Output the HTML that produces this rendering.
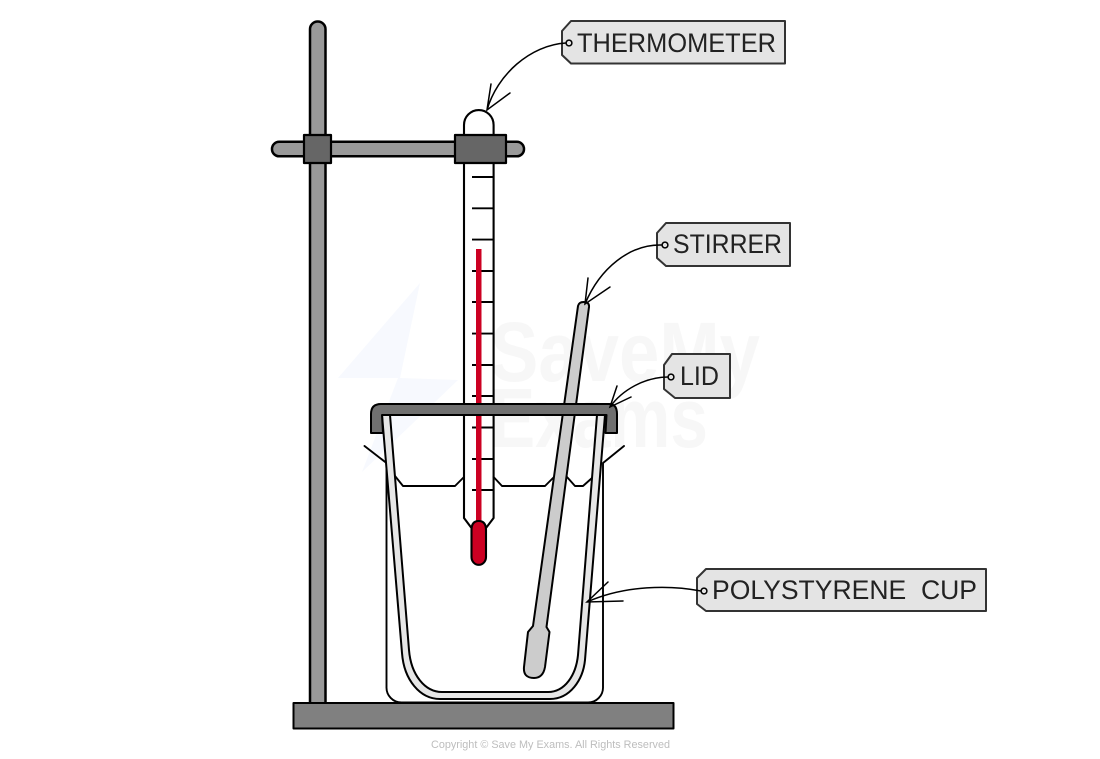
<!DOCTYPE html>
<html>
<head>
<meta charset="utf-8">
<style>
html,body{margin:0;padding:0;background:#fff;width:1100px;height:759px;overflow:hidden}
svg{display:block}
.lbl{font-family:"Liberation Sans",sans-serif;font-size:27px;fill:#222}
.wm{font-family:"Liberation Sans",sans-serif;font-weight:bold;font-size:84px;fill:#f7f7f7}
</style>
</head>
<body>
<svg width="1100" height="759" viewBox="0 0 1100 759" xmlns="http://www.w3.org/2000/svg">
  <!-- watermark -->
  <polygon points="420,283 338,378 398,378 362,472 458,380 400,378" fill="#f7f9fe"/>
  <text class="wm" x="490" y="381" textLength="270" lengthAdjust="spacingAndGlyphs">SaveMy</text>
  <text class="wm" x="490" y="447" textLength="218" lengthAdjust="spacingAndGlyphs">Exams</text>

  <g stroke="#000" stroke-linejoin="round" stroke-linecap="round">
    <!-- stand -->
    <rect x="310" y="21.500" width="15.500" height="690" rx="7.700" fill="#999" stroke-width="2.500"/>
    <rect x="272" y="141.800" width="252" height="14.500" rx="7.200" fill="#999" stroke-width="2.500"/>
    <rect x="293.500" y="703" width="380" height="25.500" fill="#808080" stroke-width="2"/>

    <!-- thermometer -->
    <path d="M464,160 V125 A14.800,15 0 0 1 493.600,125 V518 L486,528 H471.500 L464,518 Z" fill="#fff" stroke-width="2.100"/>
    <g stroke-width="1.900" fill="none" stroke-linecap="butt">
      <path d="M472,177H493M472,208.300H493M472,239.600H493M472,271H493M472,302H493M472,333.600H493M472,365H493M472,396H493M472,427.500H493M472,459H493M472,490H493"/>
    </g>
    <rect x="476" y="249" width="5.500" height="280" fill="#cc0022" stroke="none"/>
    <path d="M471.500,530 Q471.500,521 478.700,521 Q486,521 486,530 V557 A7.200,7.800 0 0 1 471.500,557 Z" fill="#cc0022" stroke-width="2.100"/>

    <!-- clamps -->
    <rect x="304" y="135" width="27" height="28" fill="#666" stroke-width="2.200"/>
    <rect x="455" y="135" width="51" height="28" fill="#666" stroke-width="2.200"/>

    <!-- beaker -->
    <g fill="none" stroke-width="1.900">
      <path d="M364.500,446 L386.500,463 V687 A15,15 0 0 0 401.500,702.500 H588 A15,15 0 0 0 603,687 V463 L624,446"/>
      <!-- water surface -->
      <path d="M395,476 L403,486 H455 L464,477"/>
      <path d="M493.600,477 L502,486 H545 L554,477"/>
      <path d="M567,477 L575,486 H583 L592,478"/>
    </g>

    <!-- stirrer -->
    <path d="M578,306 Q579,302 583.500,302 Q589.500,302 589,307 L546.500,627 L549.500,632 L545,667 Q543,678 534,678 Q523,678 524,667 L528,632 L533,626 Z" fill="#ccc" stroke-width="2"/>

    <!-- polystyrene cup -->
    <path d="M382,415 L402,653 C404,680 420,699 440,699 H550 C570,699 583,680 585,660 L605,415 H597 L578,655 C576,675 565,692 548,692 H442 C425,692 411,675 409,650 L390,415 Z" fill="#e6e6e6" stroke-width="2"/>

    <!-- lid -->
    <path d="M371,433 V414 Q371,404 381,404 H609 Q617,404 617,414 V433 H605.500 L606.500,415 H382 L383,433 Z" fill="#707070" stroke-width="2"/>
  </g>

  <!-- tags -->
  <g stroke="#333" stroke-width="2" fill="#e4e4e4" stroke-linejoin="round">
    <polygon points="571,21 785,21 785,63.500 571,63.500 562,55 562,31"/>
    <polygon points="666,223 790,223 790,266 666,266 657,258 657,233"/>
    <polygon points="672,354 730,354 730,398 675,398 664,389 664,365"/>
    <polygon points="706,569 986,569 986,611 706,611 697,604 697,578"/>
  </g>
  <text class="lbl" x="577" y="52" textLength="199" lengthAdjust="spacingAndGlyphs">THERMOMETER</text>
  <text class="lbl" x="673" y="253" textLength="109" lengthAdjust="spacingAndGlyphs">STIRRER</text>
  <text class="lbl" x="680" y="385" textLength="39" lengthAdjust="spacingAndGlyphs">LID</text>
  <text class="lbl" x="712" y="599" textLength="265" lengthAdjust="spacingAndGlyphs" xml:space="preserve">POLYSTYRENE  CUP</text>

  <!-- connectors -->
  <g fill="none" stroke="#000" stroke-width="1.500" stroke-linecap="round">
    <circle cx="569" cy="43" r="2.900"/>
    <circle cx="665" cy="245" r="2.900"/>
    <circle cx="671" cy="377" r="2.900"/>
    <circle cx="704" cy="591" r="2.900"/>
    <path d="M566,43 C530,45 497,75 487,110 M491,84 L487,110 L510,93"/>
    <path d="M662,245 C630,244 600,268 585,304 M588,278 L585,304 L610,287"/>
    <path d="M668,377 C645,377 622,390 610,407 M617,386 L610,407 L631,397"/>
    <path d="M701,591 C670,585 625,585 587,602 M608,582 L587,602 L623,601"/>
  </g>

  <text x="431" y="748" font-family="'Liberation Sans',sans-serif" font-size="11" fill="#bdbdbd" textLength="239" lengthAdjust="spacingAndGlyphs">Copyright © Save My Exams. All Rights Reserved</text>
</svg>
</body>
</html>
